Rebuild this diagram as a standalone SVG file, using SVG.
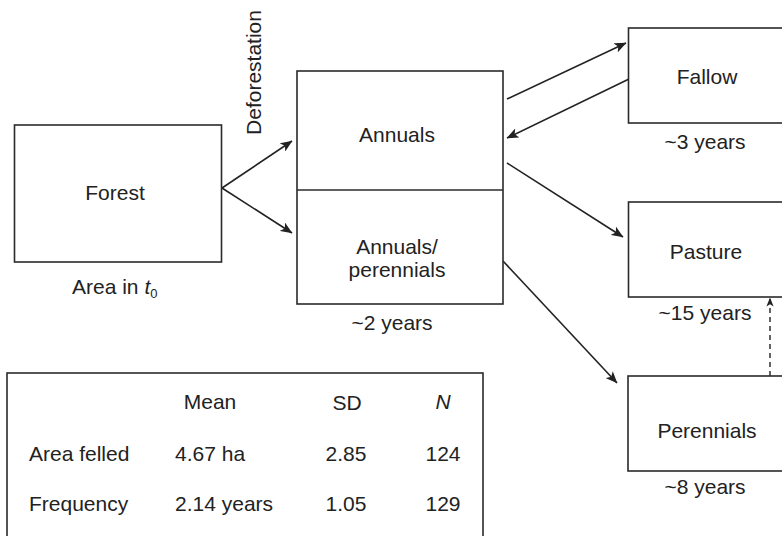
<svg xmlns="http://www.w3.org/2000/svg" width="782" height="536" viewBox="0 0 782 536">
<defs>
<style>
.box{fill:#fff;stroke:#2a2a2a;stroke-width:1.6}
.t{font-family:"Liberation Sans",Arial,sans-serif;font-size:21px;fill:#222}
.c{text-anchor:middle}
.ln{stroke:#222;stroke-width:1.6;fill:none}
.dash{stroke:#222;stroke-width:1.4;fill:none;stroke-dasharray:5,4}
</style>
<marker id="ah" viewBox="0 0 12 10" refX="11.5" refY="5" markerWidth="12" markerHeight="10" markerUnits="userSpaceOnUse" orient="auto">
<path d="M0,0 L12,5 L0,10 L3,5 Z" fill="#222"/>
</marker>
<marker id="ahs" viewBox="0 0 10 8" refX="9.5" refY="4" markerWidth="9" markerHeight="8" markerUnits="userSpaceOnUse" orient="auto">
<path d="M0,0 L10,4 L0,8 L2.5,4 Z" fill="#222"/>
</marker>
</defs>
<rect width="782" height="536" fill="#fff"/>

<g id="connectors">
<path class="ln" d="M222,188 L292,141" marker-end="url(#ah)"/>
<path class="ln" d="M222,188 L292,233" marker-end="url(#ah)"/>
<path class="ln" d="M507,99 L626,43" marker-end="url(#ah)"/>
<path class="ln" d="M629,79 L507,138" marker-end="url(#ah)"/>
<path class="ln" d="M507,163 L623,237" marker-end="url(#ah)"/>
<path class="ln" d="M503,261 L617,383" marker-end="url(#ah)"/>
<path class="dash" d="M770,376 L770,298" marker-end="url(#ahs)"/>
</g>

<g id="forest">
<rect class="box" x="14.5" y="125" width="207" height="137"/>
<text class="t c" x="115" y="200">Forest</text>
<text class="t" x="72" y="294">Area in <tspan font-style="italic">t</tspan><tspan font-size="13" dy="4">0</tspan></text>
</g>

<g id="deforestation-label">
<text class="t c" font-size="19.5" transform="translate(261,72.5) rotate(-90)">Deforestation</text>
</g>

<g id="annuals">
<rect class="box" x="297" y="71" width="206" height="233"/>
<line class="box" x1="297" y1="190" x2="503" y2="190"/>
<text class="t c" x="397" y="141.5">Annuals</text>
<text class="t c" x="397" y="253.5">Annuals/</text>
<text class="t c" x="397" y="277">perennials</text>
<text class="t c" x="392" y="330">~2 years</text>
</g>

<g id="fallow">
<rect class="box" x="628.5" y="28" width="158" height="95"/>
<text class="t c" x="707" y="83.5">Fallow</text>
<text class="t c" x="705" y="149">~3 years</text>
</g>

<g id="pasture">
<rect class="box" x="628.5" y="202" width="158" height="95"/>
<text class="t c" x="706" y="259">Pasture</text>
<text class="t c" x="705" y="320">~15 years</text>
</g>

<g id="perennials">
<rect class="box" x="628" y="376" width="158" height="95"/>
<text class="t c" x="707" y="438">Perennials</text>
<text class="t c" x="705" y="494">~8 years</text>
</g>

<g id="table">
<rect class="box" x="7" y="373" width="476" height="200"/>
<text class="t c" x="210" y="409">Mean</text>
<text class="t c" x="347" y="410" font-size="14">SD</text>
<text class="t c" x="443" y="409" font-style="italic">N</text>
<text class="t" x="29" y="461">Area felled</text>
<text class="t" x="175" y="461">4.67 ha</text>
<text class="t c" x="346" y="461">2.85</text>
<text class="t c" x="443" y="461">124</text>
<text class="t" x="29" y="511">Frequency</text>
<text class="t" x="175" y="511">2.14 years</text>
<text class="t c" x="346" y="511">1.05</text>
<text class="t c" x="443" y="511">129</text>
</g>
</svg>
